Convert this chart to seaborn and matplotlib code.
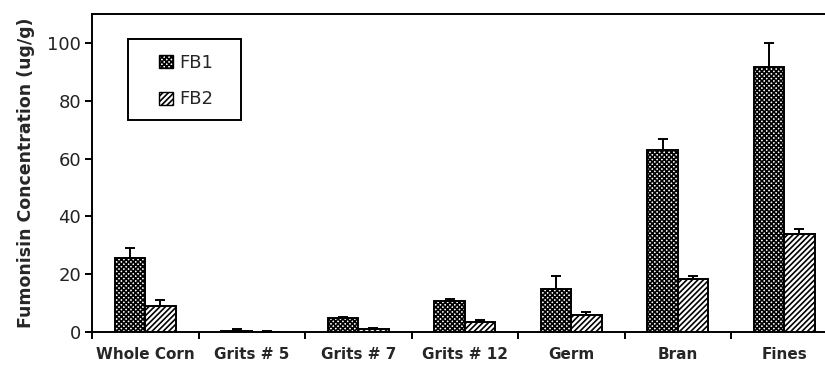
import matplotlib
matplotlib.use("Agg")
import matplotlib.pyplot as plt
from matplotlib.patches import Patch, Rectangle
from matplotlib.ticker import FixedLocator, NullFormatter
import numpy as np
import pandas as pd
import seaborn as sns

# Fumonisin levels by corn fraction
categories = ["Whole Corn", "Grits # 5", "Grits # 7", "Grits # 12", "Germ", "Bran", "Fines"]
fb1_mean = [25.6, 0.5, 4.7, 10.7, 14.9, 62.8, 91.7]
fb1_err = [3.5, 0.6, 0.6, 0.6, 4.5, 3.8, 8.4]
fb2_mean = [9.1, 0.1, 0.9, 3.4, 5.9, 18.4, 33.8]
fb2_err = [1.9, 0.1, 0.6, 0.6, 1.1, 0.9, 1.8]
series = ["FB1", "FB2"]
y_ticks = [0, 20, 40, 60, 80, 100]

sns.set_theme(style="white")
plt.rcParams["font.family"] = ["DejaVu Sans"]
plt.rcParams["hatch.linewidth"] = 1.2

df = pd.DataFrame({
    "fraction": categories * 2,
    "toxin": ["FB1"] * len(categories) + ["FB2"] * len(categories),
    "conc": fb1_mean + fb2_mean,
})

W, H = 825, 365
fig = plt.figure(figsize=(W / 100, H / 100), dpi=100)
ax = fig.add_axes([92 / W, 1 - 332 / H, 745.5 / W, (332 - 14) / H])

sns.barplot(data=df, x="fraction", y="conc", hue="toxin", hue_order=series,
            order=categories, width=0.57, palette=["white", "white"],
            edgecolor="black", linewidth=1.4, errorbar=None, legend=False, ax=ax)

hatches = {"FB1": "xxxxxxx", "FB2": "//////"}
errs = {"FB1": fb1_err, "FB2": fb2_err}
for cont, name in zip(ax.containers, series):
    xs, tops = [], []
    for bar in cont:
        bar.set_hatch(hatches[name])
        xs.append(bar.get_x() + bar.get_width() / 2)
        tops.append(bar.get_height())
    e = np.array(errs[name])
    ax.errorbar(xs, tops, yerr=[np.zeros_like(e), e], fmt="none",
                ecolor="black", elinewidth=1.4, capsize=3.6, capthick=1.4, zorder=1)

ax.set_ylim(0, 110)
ax.set_xlim(-0.5, len(categories) - 0.5)
ax.set_yticks(y_ticks)
ax.set_yticklabels([str(v) for v in y_ticks], fontsize=13, color="#222222")
ax.set_ylabel("Fumonisin Concentration (ug/g)", fontsize=12.5, fontweight="bold")
ax.yaxis.set_label_coords(-0.077, 0.5)
ax.set_xlabel("")

ax.set_xticks(range(len(categories)))
ax.set_xticklabels(categories, fontsize=11, fontweight="bold")
ax.tick_params(axis="x", which="major", length=0, pad=11)
ax.xaxis.set_minor_locator(FixedLocator(np.arange(-0.5, len(categories), 1.0)))
ax.xaxis.set_minor_formatter(NullFormatter())
ax.tick_params(axis="x", which="minor", length=5, width=1.4, direction="out", bottom=True, color="black")
ax.tick_params(axis="y", length=5, width=1.4, direction="out", left=True, color="black", pad=3)

for side in ["left", "bottom", "top", "right"]:
    ax.spines[side].set_color("black")
    ax.spines[side].set_linewidth(1.4)

# legend: entries without frame, box drawn separately
handles = [Patch(facecolor="white", edgecolor="black", hatch=hatches[s], label=s) for s in series]
fx = lambda px: px / W
fy = lambda py: 1 - py / H
leg = ax.legend(handles=handles, loc="center", bbox_to_anchor=(fx(186), fy(81)),
                bbox_transform=fig.transFigure, fontsize=13, frameon=False,
                handlelength=0.75, handleheight=0.75, handletextpad=0.35,
                labelspacing=1.05, borderpad=0)
box = Rectangle((fx(128), fy(120)), fx(241) - fx(128), fy(39) - fy(120),
                transform=fig.transFigure, facecolor="none", edgecolor="black",
                linewidth=1.4, zorder=5)
fig.add_artist(box)

fig.savefig("out.png", dpi=100)
